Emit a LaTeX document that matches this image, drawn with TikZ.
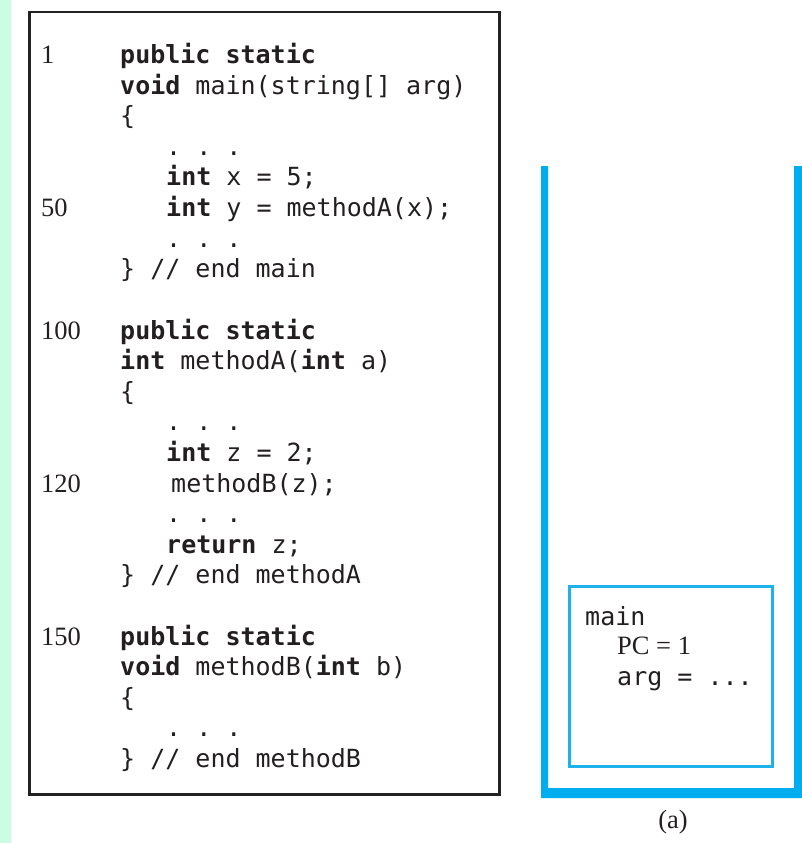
\documentclass[tikz,border=0pt]{standalone}
\usepackage{fontspec}
\setmainfont{Liberation Serif}
\setmonofont{DejaVu Sans Mono}
\definecolor{mint}{HTML}{CCFCE2}
\definecolor{stackblue}{HTML}{00AEEF}
\definecolor{framebl}{HTML}{1DB2EB}
\definecolor{txt}{HTML}{231F20}
\definecolor{frame}{HTML}{222222}
\begin{document}
\begin{tikzpicture}[x=1pt,y=-1pt,
  code/.style={anchor=base west,inner sep=0pt,font=\fontsize{25}{30}\selectfont\ttfamily,text=txt},
  num/.style={anchor=base west,inner sep=0pt,font=\fontsize{26.5}{30}\selectfont\rmfamily,text=txt},
  codebox/.style={draw=frame,line width=2.8pt},
  framebox/.style={draw=framebl,line width=3pt}]
\useasboundingbox (0,0) rectangle (802,843);
% green strip
\fill[mint] (0,0) rectangle (11,843);
% code frame
\draw[codebox] (29.3,12) rectangle (499.5,794.5);
% group main
\node[num]  (n1)  at (41,63.5) {1};
\node[code] (l0)  at (120,63.5) {\textbf{public static}};
\node[code] (l1)  at (120,94.1) {\textbf{void} main(string[] arg)};
\node[code] (l2)  at (120,124.7) {\{};
\node[code] (l3)  at (166,155.3) {. . .};
\node[code] (l4)  at (166,185.9) {\textbf{int} x = 5;};
\node[num]  (n50) at (41,216.5) {50};
\node[code] (l5)  at (166,216.5) {\textbf{int} y = methodA(x);};
\node[code] (l6)  at (166,247.1) {. . .};
\node[code] (l7)  at (120,277.7) {\} // end main};
% group methodA
\node[num]  (n100) at (41,339) {100};
\node[code] (l9)  at (120,339) {\textbf{public static}};
\node[code] (l10) at (120,369.6) {\textbf{int} methodA(\textbf{int} a)};
\node[code] (l11) at (120,400.2) {\{};
\node[code] (l12) at (166,430.8) {. . .};
\node[code] (l13) at (166,461.4) {\textbf{int} z = 2;};
\node[num]  (n120) at (41,492) {120};
\node[code] (l14) at (171,492) {methodB(z);};
\node[code] (l15) at (166,522.6) {. . .};
\node[code] (l16) at (166,553.2) {\textbf{return} z;};
\node[code] (l17) at (120,583.8) {\} // end methodA};
% group methodB
\node[num]  (n150) at (41,645) {150};
\node[code] (l19) at (120,645) {\textbf{public static}};
\node[code] (l20) at (120,675.6) {\textbf{void} methodB(\textbf{int} b)};
\node[code] (l21) at (120,706.2) {\{};
\node[code] (l22) at (166,736.8) {. . .};
\node[code] (l23) at (120,767.4) {\} // end methodB};
% stack container
\fill[stackblue] (541,166) -- (541,798) -- (802,798) -- (802,166) -- (794,166) -- (794,788) -- (548,788) -- (548,166) -- cycle;
% stack frame
\draw[framebox] (569.5,586.5) rectangle (772.5,766.5);
\node[code] (fmain) at (585,625) {main};
\node[num]  (fpc)   at (617,654) {PC = 1};
\node[code] (farg)  at (617,685) {arg = ...};
\node[num,anchor=base] (cap) at (673,828) {(a)};
\end{tikzpicture}
\end{document}
